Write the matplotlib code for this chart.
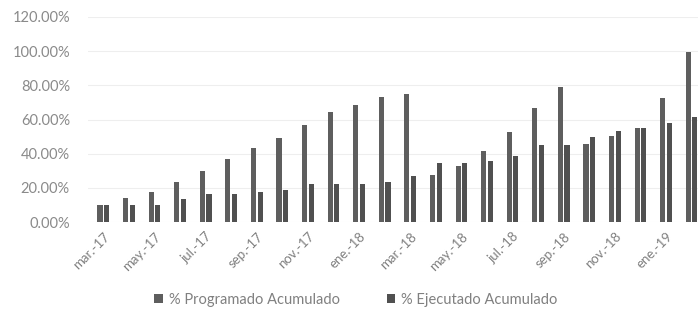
import matplotlib
matplotlib.use("Agg")
import matplotlib.pyplot as plt
import numpy as np
from matplotlib.ticker import FuncFormatter

plt.rcParams['font.family'] = ['Lato', 'DejaVu Sans']

months = ["mar.-17", "abr.-17", "may.-17", "jun.-17", "jul.-17", "ago.-17",
          "sep.-17", "oct.-17", "nov.-17", "dic.-17", "ene.-18", "feb.-18",
          "mar.-18", "abr.-18", "may.-18", "jun.-18", "jul.-18", "ago.-18",
          "sep.-18", "oct.-18", "nov.-18", "dic.-18", "ene.-19", "feb.-19"]
programado = [10.0, 14.0, 17.5, 23.5, 30.0, 37.0, 43.5, 49.0, 56.7, 64.5,
              68.4, 73.0, 74.8, 27.7, 33.0, 41.5, 52.8, 66.9, 79.0, 45.6,
              50.3, 54.8, 72.3, 99.6]
ejecutado = [10.0, 10.0, 10.0, 13.5, 16.4, 16.4, 17.7, 18.7, 22.0, 22.0,
             22.0, 23.5, 27.0, 34.3, 34.5, 35.8, 38.6, 45.0, 45.0, 49.5,
             53.4, 55.1, 58.0, 61.2]
yticks = [0, 20, 40, 60, 80, 100, 120]

W, H = 698, 315
fig = plt.figure(figsize=(W / 100, H / 100), dpi=100)
ax = fig.add_axes([88 / W, (H - 222) / H, (W - 88) / W, (222 - 17) / H])

x = np.arange(len(months))
w = 0.2
ax.bar(x - 0.13, programado, width=w, color="#5e5e5e", label="% Programado Acumulado")
ax.bar(x + 0.13, ejecutado, width=w, color="#505050", label="% Ejecutado Acumulado")

ax.set_xlim(-0.6, 23.25)
ax.set_ylim(0, 120)
ax.set_yticks(yticks)
ax.yaxis.set_major_formatter(FuncFormatter(lambda v, p: f"{v:.2f}%"))
ax.grid(axis="y", color="#eeeeee", linewidth=0.8)
ax.set_axisbelow(True)
for s in ax.spines.values():
    s.set_visible(False)
ax.tick_params(axis="y", length=0, pad=13, labelsize=10.5, labelcolor="#8a8a8a")
ax.set_xticks(x[::2])
ax.set_xticklabels(months[::2], rotation=45, ha="right", va="top",
                   rotation_mode="anchor", fontsize=9.5, color="#808080")
ax.tick_params(axis="x", length=0, pad=6)

fig.legend(loc="center", bbox_to_anchor=(0.51, 0.048), ncol=2, frameon=False,
           fontsize=10.5, handlelength=0.6, handleheight=0.6, columnspacing=3.2,
           handletextpad=0.4, labelcolor="#808080")

fig.savefig("out.png", dpi=100)
